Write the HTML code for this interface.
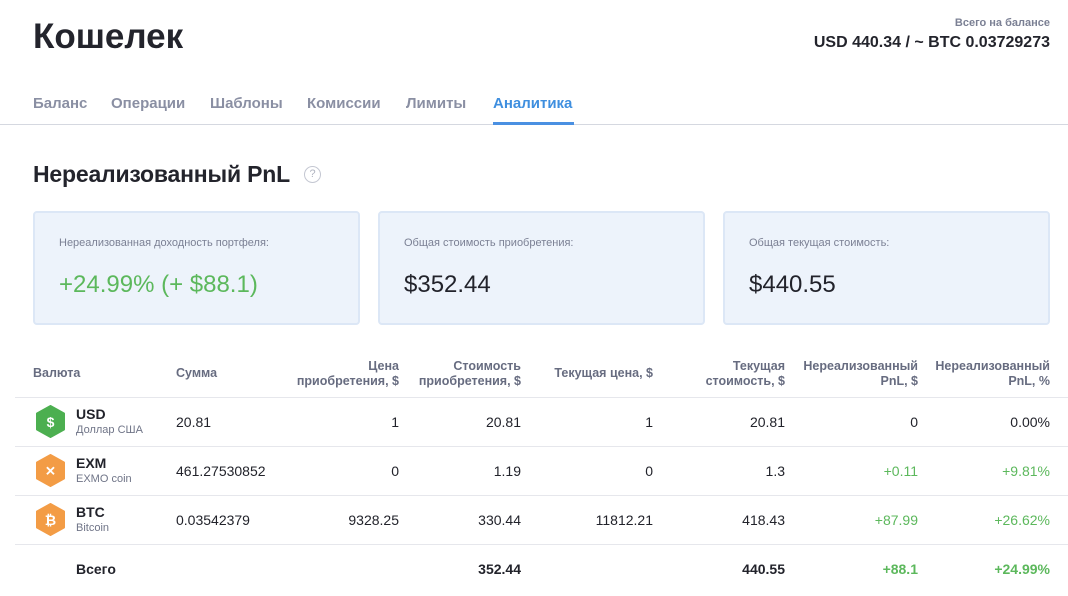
<!DOCTYPE html>
<html><head><meta charset="utf-8"><style>
*{margin:0;padding:0;box-sizing:border-box}
body{width:1068px;height:596px;background:#fff;font-family:"Liberation Sans","DejaVu Sans",sans-serif;color:#22232b;position:relative;overflow:hidden}
.a{position:absolute;white-space:nowrap}
.r{text-align:right}
.tab{position:absolute;top:95px;font-size:15px;font-weight:bold;color:#8a8fa3}
.card{position:absolute;top:211px;width:327px;height:114px;background:#edf3fb;border:2px solid #dce7f6;border-radius:4px}
.card .l{position:absolute;left:24px;top:24px;font-size:11px;color:#7b8094}
.card .v{position:absolute;left:24px;top:58px;font-size:24px;color:#22232b}
.th{position:absolute;font-size:12.5px;font-weight:bold;color:#676c80;line-height:15px}
.line{position:absolute;left:15px;right:0;height:1px;background:#e6e7ec}
.td{position:absolute;font-size:14px;color:#22232b}
.g{color:#5cb85c}
.hex{position:absolute;left:35px;width:31px;height:33px}
.nm{position:absolute;left:76px;font-size:14px;font-weight:bold}
.sb{position:absolute;left:76px;font-size:11px;color:#6f7487}
</style></head><body>
<div class="a" style="left:33px;top:17px;font-size:35px;font-weight:bold;color:#23242c">Кошелек</div>
<div class="a r" style="right:18px;top:17px;font-size:11px;font-weight:bold;color:#7b8094">Всего на балансе</div>
<div class="a r" style="right:18px;top:34px;font-size:16px;font-weight:bold;color:#23242c">USD 440.34 / ~ BTC 0.03729273</div>
<div class="tab" style="left:33px">Баланс</div>
<div class="tab" style="left:111px">Операции</div>
<div class="tab" style="left:210px">Шаблоны</div>
<div class="tab" style="left:307px">Комиссии</div>
<div class="tab" style="left:406px">Лимиты</div>
<div class="tab" style="left:493px;color:#3f8fdf">Аналитика</div>
<div class="a" style="left:0;top:124px;width:1068px;height:1px;background:#d5d8e0"></div>
<div class="a" style="left:493px;top:122px;width:81px;height:3px;background:#4a90e2"></div>
<div class="a" style="left:33px;top:161px;font-size:23px;font-weight:bold;color:#23242c;letter-spacing:-0.2px">Нереализованный PnL</div>
<div class="a" style="left:304px;top:166px;width:17px;height:17px;border:1.5px solid #c4c7d2;border-radius:50%;color:#b0b4c0;font-size:11px;text-align:center;line-height:14px">?</div>
<div class="card" style="left:33px"><div class="l">Нереализованная доходность портфеля:</div><div class="v" style="color:#5cb85c">+24.99% (+ $88.1)</div></div>
<div class="card" style="left:378px"><div class="l">Общая стоимость приобретения:</div><div class="v">$352.44</div></div>
<div class="card" style="left:723px"><div class="l">Общая текущая стоимость:</div><div class="v">$440.55</div></div>

<div class="th" style="left:33px;top:366px">Валюта</div>
<div class="th" style="left:176px;top:366px">Сумма</div>
<div class="th r" style="right:669px;top:359px">Цена<br>приобретения, $</div>
<div class="th r" style="right:547px;top:359px">Стоимость<br>приобретения, $</div>
<div class="th r" style="right:415px;top:366px">Текущая цена, $</div>
<div class="th r" style="right:283px;top:359px">Текущая<br>стоимость, $</div>
<div class="th r" style="right:150px;top:359px">Нереализованный<br>PnL, $</div>
<div class="th r" style="right:18px;top:359px">Нереализованный<br>PnL, %</div>
<div class="line" style="top:397px"></div>
<div class="line" style="top:446px"></div>
<div class="line" style="top:495px"></div>
<div class="line" style="top:544px"></div>

<svg class="hex" style="top:405px" viewBox="0 0 31 33"><polygon points="15.5,1 29,8.5 29,24.5 15.5,32 2,24.5 2,8.5" fill="#4caf50" stroke="#4caf50" stroke-width="2" stroke-linejoin="round"/><text x="15.5" y="22" text-anchor="middle" font-size="14" font-weight="bold" fill="#fff" font-family="Liberation Sans">$</text></svg>
<svg class="hex" style="top:454px" viewBox="0 0 31 33"><polygon points="15.5,1 29,8.5 29,24.5 15.5,32 2,24.5 2,8.5" fill="#f39c45" stroke="#f39c45" stroke-width="2" stroke-linejoin="round"/><text x="15.5" y="21.5" text-anchor="middle" font-size="13" font-weight="bold" fill="#fff" font-family="Liberation Sans">✕</text></svg>
<svg class="hex" style="top:503px" viewBox="0 0 31 33"><polygon points="15.5,1 29,8.5 29,24.5 15.5,32 2,24.5 2,8.5" fill="#f39c45" stroke="#f39c45" stroke-width="2" stroke-linejoin="round"/><text x="15.5" y="22" text-anchor="middle" font-size="14" font-weight="bold" fill="#fff" font-family="Liberation Sans">₿</text></svg>

<div class="nm" style="top:406px">USD</div><div class="sb" style="top:424px">Доллар США</div>
<div class="nm" style="top:455px">EXM</div><div class="sb" style="top:473px">EXMO coin</div>
<div class="nm" style="top:504px">BTC</div><div class="sb" style="top:522px">Bitcoin</div>
<div class="nm" style="top:561px">Всего</div>

<div class="td" style="left:176px;top:414px">20.81</div>
<div class="td r" style="right:669px;top:414px">1</div>
<div class="td r" style="right:547px;top:414px">20.81</div>
<div class="td r" style="right:415px;top:414px">1</div>
<div class="td r" style="right:283px;top:414px">20.81</div>
<div class="td r" style="right:150px;top:414px">0</div>
<div class="td r" style="right:18px;top:414px">0.00%</div>

<div class="td" style="left:176px;top:463px">461.27530852</div>
<div class="td r" style="right:669px;top:463px">0</div>
<div class="td r" style="right:547px;top:463px">1.19</div>
<div class="td r" style="right:415px;top:463px">0</div>
<div class="td r" style="right:283px;top:463px">1.3</div>
<div class="td r g" style="right:150px;top:463px">+0.11</div>
<div class="td r g" style="right:18px;top:463px">+9.81%</div>

<div class="td" style="left:176px;top:512px">0.03542379</div>
<div class="td r" style="right:669px;top:512px">9328.25</div>
<div class="td r" style="right:547px;top:512px">330.44</div>
<div class="td r" style="right:415px;top:512px">11812.21</div>
<div class="td r" style="right:283px;top:512px">418.43</div>
<div class="td r g" style="right:150px;top:512px">+87.99</div>
<div class="td r g" style="right:18px;top:512px">+26.62%</div>

<div class="td r" style="right:547px;top:561px;font-weight:bold">352.44</div>
<div class="td r" style="right:283px;top:561px;font-weight:bold">440.55</div>
<div class="td r g" style="right:150px;top:561px;font-weight:bold">+88.1</div>
<div class="td r g" style="right:18px;top:561px;font-weight:bold">+24.99%</div>
</body></html>
